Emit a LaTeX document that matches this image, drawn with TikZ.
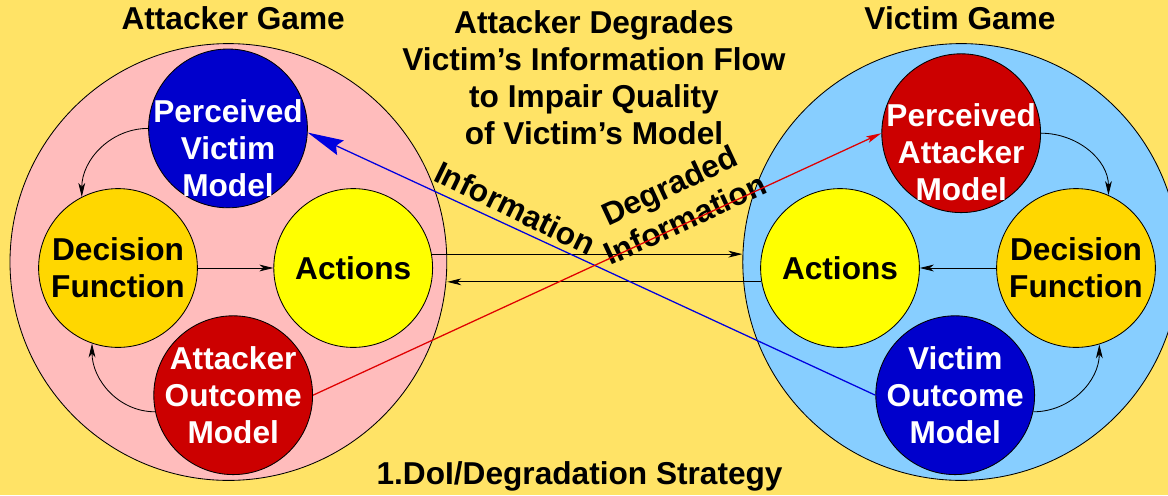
\documentclass[tikz,border=0pt]{standalone}
\usepackage{fontspec}
\setmainfont{Liberation Sans}
\usepackage{xcolor}
\usepackage{tikz}
\usetikzlibrary{arrows.meta,calc}
\definecolor{Canvas}{HTML}{FFE366}
\definecolor{PinkGame}{HTML}{FFBCBC}
\definecolor{SkyGame}{HTML}{87CEFF}
\definecolor{DeepBlue}{HTML}{0000CC}
\definecolor{DeepRed}{HTML}{CC0000}
\definecolor{Gold}{HTML}{FFD700}
\definecolor{Lemon}{HTML}{FFFF00}
\definecolor{LineBlue}{HTML}{0000E0}
\definecolor{LineRed}{HTML}{E00000}

\begin{document}
\begin{tikzpicture}[
  game/.style={circle, draw=black, line width=0.6pt, minimum size=10.92cm, inner sep=0pt},
  ball/.style={circle, draw=black, line width=0.6pt, minimum size=3.97cm, inner sep=0pt},
  word/.style={font=\bfseries\fontsize{22.5}{26.4}\selectfont, align=center, inner sep=0pt},
  inword/.style={word, text=white},
  flow/.style={-{Stealth[length=0.35cm, width=0.17cm, inset=0.1cm]}, line width=0.6pt},
  blueflow/.style={-{Stealth[length=0.9cm, width=0.4cm, inset=0.12cm]}, line width=0.9pt, draw=LineBlue, color=LineBlue},
  redflow/.style={-{Stealth[length=0.38cm, width=0.17cm, inset=0.08cm]}, line width=0.9pt, draw=LineRed, color=LineRed}
]
\useasboundingbox (0,0) rectangle (29.2,-12.375);
\fill[Canvas] (0,0) rectangle (29.2,-12.375);

\node[game, fill=PinkGame] (lgame) at (5.71,-6.55) {};
\node[game, fill=SkyGame] (rgame) at (24.03,-6.55) {};

\node[ball, fill=DeepBlue, label={[inword, yshift=-0.5cm]center:Perceived\\Victim\\Model}] (lpvm) at (5.70,-3.21) {};
\node[ball, fill=Gold, label={[word]center:Decision\\Function}] (ldf) at (2.95,-6.70) {};
\node[ball, fill=Lemon, label={[word]center:Actions}] (lact) at (8.83,-6.70) {};
\node[ball, fill=DeepRed, label={[inword]center:Attacker\\Outcome\\Model}] (laom) at (5.83,-9.88) {};

\node[ball, fill=DeepRed, label={[inword, yshift=-0.48cm]center:Perceived\\Attacker\\Model}] (rpam) at (24.03,-3.33) {};
\node[ball, fill=Lemon, label={[word]center:Actions}] (ract) at (21.00,-6.70) {};
\node[ball, fill=Gold, label={[word]center:Decision\\Function}] (rdf) at (26.90,-6.70) {};
\node[ball, fill=DeepBlue, label={[inword]center:Victim\\Outcome\\Model}] (rvom) at (23.88,-9.88) {};

\node[word] (ltitle) at (5.83,-0.45) {Attacker Game};
\node[word] (rtitle) at (24.00,-0.45) {Victim Game};
\node[word] (mtitle) at (14.85,-1.94) {Attacker Degrades\\Victim’s Information Flow\\to Impair Quality\\of Victim’s Model};
\node[word] (strategy) at (14.49,-11.90) {1.DoI/Degradation Strategy};
\node[word, rotate=-26] (infolbl) at (12.88,-5.20) {Information};
\node[word, rotate=25] (deglbl) at (16.93,-5.05) {Degraded\\Information};

\draw[flow] (ldf) -- (lact);
\draw[flow] (rdf) -- (ract);
\draw[flow] (lpvm.west) to[out=180, in=90] (ldf.117);
\draw[flow] (laom.192) to[out=180, in=-90] (ldf.251);
\draw[flow] (rpam.east) to[out=0, in=90] (rdf.66);
\draw[flow] (rvom.-12) to[out=0, in=-90] (rdf.-73);
\draw[flow] (lact.10) -- (lact.10 -| rgame.west);
\draw[flow] (ract.190) -- (ract.190 -| lgame.east);
\draw[blueflow] (rvom.west) -- (lpvm.-3);
\draw[redflow] (laom.east) -- (rpam.west);
\end{tikzpicture}
\end{document}
